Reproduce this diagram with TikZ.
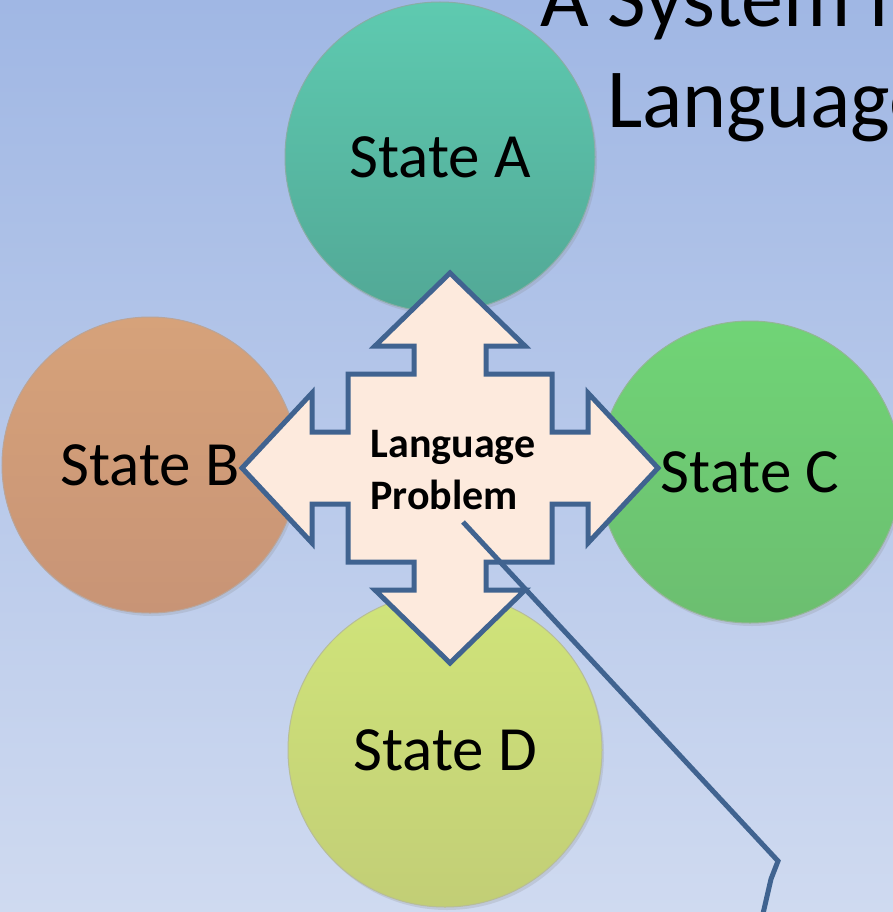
\documentclass[tikz,border=0pt]{standalone}
\usepackage{fontspec}
\setmainfont{Carlito}
\usetikzlibrary{shadows}

\definecolor{bgtop}{RGB}{160,183,228}
\definecolor{bgbot}{RGB}{207,218,240}
\definecolor{jianfill}{RGB}{253,234,221}
\definecolor{jianline}{RGB}{64,99,144}
\definecolor{atop}{RGB}{94,202,176}
\definecolor{abot}{RGB}{82,168,150}
\definecolor{btop}{RGB}{214,162,122}
\definecolor{bbot}{RGB}{200,148,118}
\definecolor{ctop}{RGB}{112,212,118}
\definecolor{cbot}{RGB}{108,190,112}
\definecolor{dtop}{RGB}{208,228,122}
\definecolor{dbot}{RGB}{194,206,118}

\begin{document}
\begin{tikzpicture}[x=1pt,y=-1pt,line join=miter]
	\tikzstyle{yuan}=[circle,inner sep=0pt,line width=1pt,font=\fontsize{63}{70}\selectfont,
		drop shadow={opacity=.2,shadow xshift=2pt,shadow yshift=-3pt}];
	\tikzstyle{jiantou}=[fill=jianfill,draw=jianline,line width=5pt];
	\tikzstyle{xian}=[draw=jianline,line width=5pt];
	%% background
	\useasboundingbox (0,0) rectangle (893,912);
	\clip (0,0) rectangle (893,912);
	\fill[top color=bgtop,bottom color=bgbot] (0,0) rectangle (893,912);
	%% title
	\node[anchor=base west,inner sep=0pt,font=\fontsize{84}{100}\selectfont] (t1) at (540,27)  {A System in};
	\node[anchor=base west,inner sep=0pt,font=\fontsize{84}{100}\selectfont] (t2) at (607,128) {Language};
	%% states
	\node[yuan,minimum size=310pt,top color=atop,bottom color=abot,draw=abot!70!black!60] (A) at (440,157) {State A};
	\node[yuan,minimum size=296pt,top color=btop,bottom color=bbot,draw=bbot!70!black!60] (B) at (150,465) {State B};
	\node[yuan,minimum size=302pt,top color=ctop,bottom color=cbot,draw=cbot!70!black!60] (C) at (750,472) {State C};
	\node[yuan,minimum size=314pt,top color=dtop,bottom color=dbot,draw=dbot!70!black!60] (D) at (445,750) {State D};
	%% cross of arrows
	\begin{scope}[shift={(450,468)}]
		\draw[jiantou] (0,-195) -- (75,-122) -- (36,-122) -- (36,-94) -- (102,-94) -- (102,-36)
			-- (138,-36) -- (138,-75) -- (208,0) -- (138,75) -- (138,36) -- (102,36)
			-- (102,94) -- (36,94) -- (36,122) -- (75,122) -- (0,195) -- (-75,122)
			-- (-36,122) -- (-36,94) -- (-102,94) -- (-102,36) -- (-138,36) -- (-138,75)
			-- (-208,0) -- (-138,-75) -- (-138,-36) -- (-102,-36) -- (-102,-94) -- (-36,-94)
			-- (-36,-122) -- (-75,-122) -- cycle;
	\end{scope}
	\node[align=left,inner sep=0pt,font=\fontsize{42}{52}\selectfont\bfseries] (LP) at (453,470) {Language\\Problem};
	%% callout line
	\coordinate (p0) at (463,522);
	\coordinate (p1) at (778,861);
	\coordinate (p2) at (771,879);
	\coordinate (p3) at (762,918);
	\draw[xian] (p0) -- (p1) -- (p2) -- (p3);
\end{tikzpicture}
\end{document}
